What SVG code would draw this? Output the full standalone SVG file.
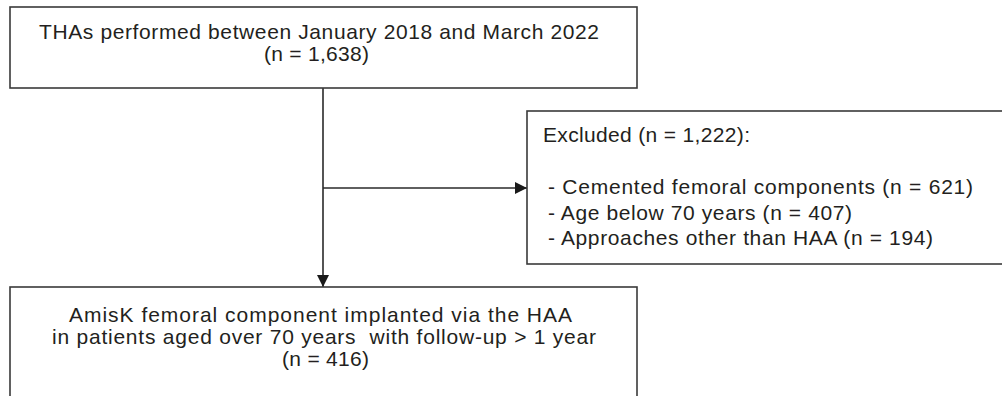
<svg xmlns="http://www.w3.org/2000/svg" width="1002" height="396" viewBox="0 0 1002 396">
<style>
.box{fill:#fff;stroke:#3a3a3a;stroke-width:1.6}
.t{font-family:"Liberation Sans",Arial,Helvetica,sans-serif;font-size:21px;fill:#231f20}
.c{fill:none;stroke:#2a2a2a;stroke-width:1.6}
</style>
<defs>
<marker id="ah" markerUnits="userSpaceOnUse" markerWidth="12" markerHeight="12" refX="12" refY="6" orient="auto">
<path d="M0,0 L12,6 L0,12 Z" fill="#1a1a1a"/>
</marker>
</defs>
<rect width="1002" height="396" fill="#fff"/>
<g id="connectors">
<line class="c" x1="323" y1="88" x2="323" y2="287" marker-end="url(#ah)"/>
<line class="c" x1="323" y1="188" x2="527" y2="188" marker-end="url(#ah)"/>
</g>
<g id="node-total">
<rect class="box" x="10" y="7" width="627" height="81"/>
<text class="t" x="39" y="39" textLength="560" lengthAdjust="spacing">THAs performed between January 2018 and March 2022</text>
<text class="t" x="264" y="60.5" textLength="105" lengthAdjust="spacing">(n = 1,638)</text>
</g>
<g id="node-excluded">
<rect class="box" x="527" y="111" width="500" height="153"/>
<text class="t" x="543" y="142" textLength="207" lengthAdjust="spacing">Excluded (n = 1,222):</text>
<text class="t" x="548" y="194" textLength="425" lengthAdjust="spacing">- Cemented femoral components (n = 621)</text>
<text class="t" x="548" y="219.5" textLength="304" lengthAdjust="spacing">- Age below 70 years (n = 407)</text>
<text class="t" x="548" y="245" textLength="385" lengthAdjust="spacing">- Approaches other than HAA (n = 194)</text>
</g>
<g id="node-included">
<rect class="box" x="10" y="287" width="627" height="200"/>
<text class="t" x="69" y="322" textLength="503" lengthAdjust="spacing">AmisK femoral component implanted via the HAA</text>
<text class="t" x="52" y="344" textLength="544" lengthAdjust="spacing" xml:space="preserve">in patients aged over 70 years  with follow-up &gt; 1 year</text>
<text class="t" x="282" y="366" textLength="87" lengthAdjust="spacing">(n = 416)</text>
</g>
</svg>
